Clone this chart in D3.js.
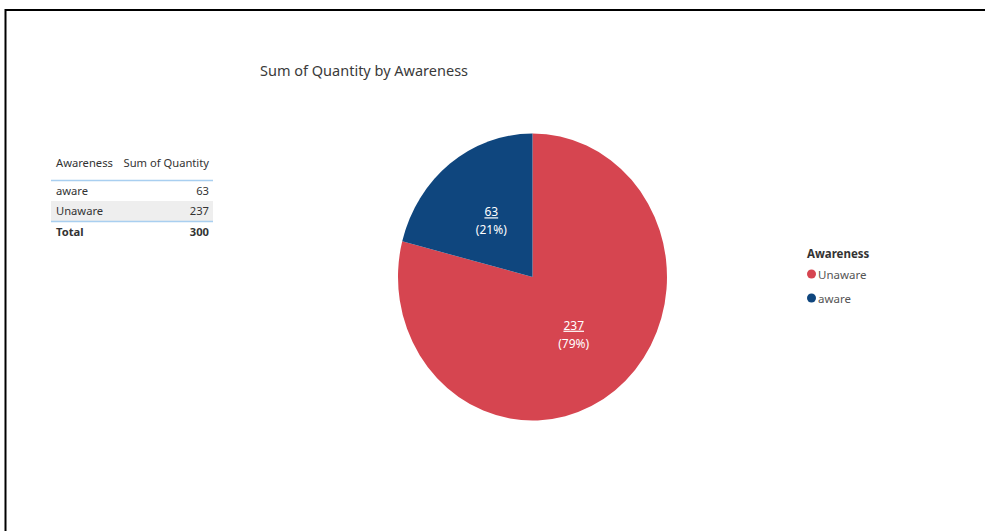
<!DOCTYPE html>
<html>
<head>
<meta charset="utf-8">
<script src="https://cdn.jsdelivr.net/npm/d3@7"></script>
<style>
  html, body { margin: 0; padding: 0; background: #fff; }
  svg { display: block; font-family: "Segoe UI", "Noto Sans", "Open Sans", sans-serif; }
</style>
</head>
<body>
<svg id="chart" width="985" height="531"></svg>
<script>
// Awareness breakdown
const categories = ["Unaware", "aware"];
const quantities = [237, 63];
const colors = ["#D64550", "#0F467E"];
const tableRows = ["aware", "Unaware"];
const tableValues = [63, 237];
const chartTitle = "Sum of Quantity by Awareness";

const svg = d3.select("#chart");

// Frame around the report page
svg.append("path")
  .attr("d", "M5.5,531 L5.5,10 L985,10")
  .attr("fill", "none")
  .attr("stroke", "#000")
  .attr("stroke-width", 2);

// Title
svg.append("text")
  .attr("x", 260).attr("y", 76)
  .attr("font-size", 14.5)
  .attr("fill", "#3a3a3a")
  .text(chartTitle);

// ---- Table ----
const tbl = svg.append("g").attr("font-size", 11.2).attr("fill", "#333");
const tx0 = 51, tx1 = 213;
tbl.append("text").attr("x", 56).attr("y", 167).text("Awareness");
tbl.append("text").attr("x", 209).attr("y", 167).attr("text-anchor", "end").text("Sum of Quantity");
tbl.append("line").attr("x1", tx0).attr("x2", tx1).attr("y1", 180.5).attr("y2", 180.5)
  .attr("stroke", "#A9CFF0").attr("stroke-width", 1.5);

const rowY = d3.scaleBand().domain(tableRows).range([181, 221]);
tableRows.forEach((r, i) => {
  if (i % 2 === 1) {
    tbl.append("rect").attr("x", tx0).attr("y", rowY(r)).attr("width", tx1 - tx0)
      .attr("height", rowY.bandwidth()).attr("fill", "#EEEEEE");
  }
  tbl.append("text").attr("x", 56).attr("y", rowY(r) + rowY.bandwidth() / 2 + 4).text(r);
  tbl.append("text").attr("x", 209).attr("y", rowY(r) + rowY.bandwidth() / 2 + 4)
    .attr("text-anchor", "end").text(tableValues[i]);
});
tbl.append("line").attr("x1", tx0).attr("x2", tx1).attr("y1", 221.5).attr("y2", 221.5)
  .attr("stroke", "#A9CFF0").attr("stroke-width", 1.5);
tbl.append("text").attr("x", 56).attr("y", 236).attr("font-weight", "bold").text("Total");
tbl.append("text").attr("x", 209).attr("y", 236).attr("text-anchor", "end")
  .attr("font-weight", "bold").text(d3.sum(tableValues));

// ---- Pie ----
const cx = 532.5, cy = 277, ry = 143.5, rx = 134.5;
const sx = rx / ry;
const total = d3.sum(quantities);
const pie = d3.pie().sort(null).value(d => d)(quantities);
const arc = d3.arc().innerRadius(0).outerRadius(ry);

const pieG = svg.append("g").attr("transform", `translate(${cx},${cy})`);
pieG.append("g").attr("transform", `scale(${sx},1)`)
  .selectAll("path").data(pie).join("path")
  .attr("d", arc)
  .attr("fill", (d, i) => colors[i]);

const labels = pieG.selectAll("g.lbl").data(pie).join("g")
  .attr("class", "lbl")
  .attr("transform", d => {
    const c = arc.centroid(d);
    return `translate(${c[0] * sx},${c[1]})`;
  })
  .attr("fill", "#fff")
  .attr("font-size", 12)
  .attr("text-anchor", "middle");
labels.append("text").attr("y", -4)
  .attr("text-decoration", "underline")
  .text(d => d.data);
labels.append("text").attr("y", 14)
  .text(d => `(${Math.round(d.data / total * 100)}%)`);

// ---- Legend ----
const lg = svg.append("g").attr("font-size", 11.5).attr("fill", "#333");
lg.append("text").attr("x", 807).attr("y", 258).attr("font-weight", "bold").text("Awareness");
const legY = d3.scalePoint().domain(categories).range([274, 298]);
categories.forEach((c, i) => {
  lg.append("circle").attr("cx", 811.5).attr("cy", legY(c)).attr("r", 4.5).attr("fill", colors[i]);
  lg.append("text").attr("x", 818).attr("y", legY(c) + 4.5).attr("fill", "#555").text(c);
});
</script>
</body>
</html>
